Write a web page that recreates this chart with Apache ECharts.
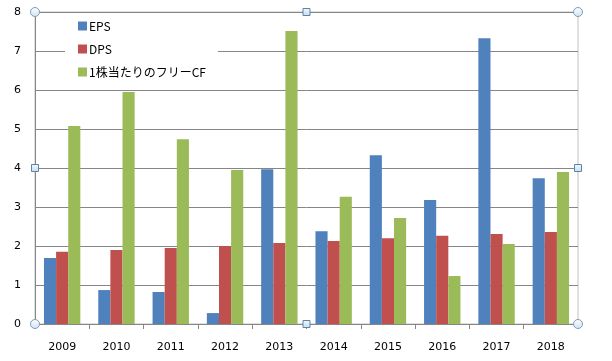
<!DOCTYPE html>
<html>
<head>
<meta charset="utf-8">
<script src="https://cdn.jsdelivr.net/npm/echarts@6/dist/echarts.min.js"></script>
<style>html,body{margin:0;padding:0;background:#fff}#c{width:612px;height:361px}</style>
</head>
<body>
<div id="c"></div>
<script>
var categories = ['2009','2010','2011','2012','2013','2014','2015','2016','2017','2018'];
var eps = [1.69, 0.87, 0.82, 0.28, 3.97, 2.38, 4.33, 3.18, 7.33, 3.74];
var dps = [1.85, 1.90, 1.95, 2.00, 2.08, 2.13, 2.20, 2.26, 2.31, 2.36];
var fcf = [5.08, 5.95, 4.74, 3.95, 7.51, 3.26, 2.72, 1.23, 2.05, 3.90];
var seriesNames = ['EPS', 'DPS', '1株当たりのフリーCF'];
var yTicks = [0, 1, 2, 3, 4, 5, 6, 7, 8];

var G = {left: 35, right: 34, top: 12, bottom: 37};
var W = 612, H = 361;
var x0 = G.left, x1 = W - G.right, y0 = G.top, y1 = H - G.bottom;
var xm = (x0 + x1) / 2, ym = (y0 + y1) / 2;

function circle(x, y) {
  return {type: 'circle', shape: {cx: x, cy: y, r: 4.5}, z: 100,
    style: {fill: {type: 'linear', x: 0, y: 0, x2: 0, y2: 1, colorStops: [{offset: 0, color: '#ffffff'}, {offset: 1, color: '#cfe3f0'}]}, stroke: '#7f9db9', lineWidth: 1}};
}
function square(x, y) {
  return {type: 'rect', shape: {x: x - 3.5, y: y - 3.5, width: 7, height: 7}, z: 100,
    style: {fill: {type: 'linear', x: 0, y: 0, x2: 0, y2: 1, colorStops: [{offset: 0, color: '#f4faff'}, {offset: 1, color: '#c4dcee'}]}, stroke: '#5f83a8', lineWidth: 1}};
}

var chart = echarts.init(document.getElementById('c'), null, {renderer: 'canvas'});
chart.setOption({
  animation: false,
  backgroundColor: '#fff',
  textStyle: {fontFamily: '"Noto Sans CJK JP", "DejaVu Sans", sans-serif'},
  grid: {left: G.left, right: G.right, top: G.top, bottom: G.bottom, show: true, borderColor: '#c0c0c0', borderWidth: 1, containLabel: false},
  legend: {
    orient: 'vertical', left: 65, top: 13,
    padding: [6, 12, 6, 13], itemGap: 9,
    itemWidth: 9, itemHeight: 9, icon: 'rect',
    backgroundColor: '#fff',
    textStyle: {fontSize: 12, color: '#000', lineHeight: 14, padding: [0, 0, 0, -3], fontFamily: '"Noto Sans CJK JP", sans-serif'},
    data: seriesNames
  },
  xAxis: {
    type: 'category', data: categories,
    axisLine: {lineStyle: {color: '#868686'}},
    axisTick: {show: true, alignWithLabel: false, length: 5, lineStyle: {color: '#868686'}},
    axisLabel: {color: '#000', fontSize: 11, margin: 18, fontFamily: '"DejaVu Sans", sans-serif'}
  },
  yAxis: {
    type: 'value', min: yTicks[0], max: yTicks[yTicks.length - 1], interval: 1,
    axisLine: {show: true, lineStyle: {color: '#868686'}},
    axisTick: {show: false},
    splitLine: {lineStyle: {color: '#868686'}},
    axisLabel: {color: '#000', fontSize: 11, margin: 14, fontFamily: '"DejaVu Sans", sans-serif'}
  },
  series: [
    {name: seriesNames[0], type: 'bar', data: eps, barGap: '0%', barCategoryGap: '33%', itemStyle: {color: '#4F81BD'}},
    {name: seriesNames[1], type: 'bar', data: dps, barGap: '0%', barCategoryGap: '33%', itemStyle: {color: '#C0504D'}},
    {name: seriesNames[2], type: 'bar', data: fcf, barGap: '0%', barCategoryGap: '33%', itemStyle: {color: '#9BBB59'}}
  ],
  graphic: [
    circle(x0, y0), circle(x1, y0), circle(x0, y1), circle(x1, y1),
    square(xm, y0), square(xm, y1), square(x0, ym), square(x1, ym)
  ]
});
</script>
</body>
</html>
